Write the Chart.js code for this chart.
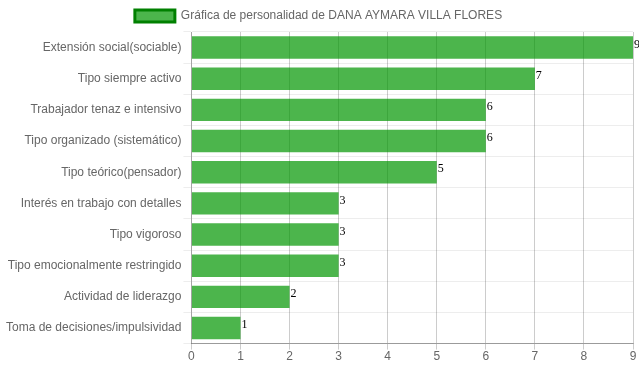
<!DOCTYPE html>
<html>
<head>
<meta charset="utf-8">
<script src="https://cdn.jsdelivr.net/npm/chart.js@4"></script>
<style>
  html, body { margin: 0; padding: 0; background: #fff; }
  #wrap { width: 639px; height: 372px; }
</style>
</head>
<body>
<div id="wrap"><canvas id="chart"></canvas></div>
<script>
const categories = [
  'Extensión social(sociable)',
  'Tipo siempre activo',
  'Trabajador tenaz e intensivo',
  'Tipo organizado (sistemático)',
  'Tipo teórico(pensador)',
  'Interés en trabajo con detalles',
  'Tipo vigoroso',
  'Tipo emocionalmente restringido',
  'Actividad de liderazgo',
  'Toma de decisiones/impulsividad'
];
const scores = [9, 7, 6, 6, 5, 3, 3, 3, 2, 1];
const seriesLabel = 'Gráfica de personalidad de DANA AYMARA VILLA FLORES';

Chart.defaults.font.family = "'Liberation Sans', Arial, sans-serif";
Chart.defaults.font.size = 12;
Chart.defaults.color = '#666';

// value next to each bar end
const valueLabels = {
  id: 'valueLabels',
  afterDatasetsDraw(chart) {
    const ctx = chart.ctx;
    const meta = chart.getDatasetMeta(0);
    ctx.save();
    ctx.font = "12px 'Liberation Serif', 'Times New Roman', serif";
    ctx.fillStyle = '#000';
    ctx.textAlign = 'left';
    ctx.textBaseline = 'middle';
    meta.data.forEach((bar, i) => {
      ctx.fillText(String(scores[i]), bar.x + 1, bar.y - 3);
    });
    ctx.restore();
  }
};

new Chart(document.getElementById('chart'), {
  type: 'bar',
  data: {
    labels: categories,
    datasets: [{
      label: seriesLabel,
      data: scores,
      backgroundColor: 'rgba(0, 150, 0, 0.7)',
      borderColor: 'rgba(0, 128, 0, 1)',
      borderWidth: 0
    }]
  },
  options: {
    indexAxis: 'y',
    responsive: true,
    maintainAspectRatio: false,
    animation: false,
    layout: { padding: { left: 4, right: 6, bottom: 8 } },
    scales: {
      x: {
        min: 0,
        max: 9,
        ticks: { stepSize: 1, padding: 0 },
        grid: { color: 'rgba(0,0,0,0.2)', drawTicks: true, tickLength: 6 },
        border: { color: 'rgba(0,0,0,0.35)' }
      },
      y: {
        grid: { color: 'rgba(0,0,0,0.07)', offset: true, tickLength: 8 },
        border: { color: 'rgba(0,0,0,0.2)' },
        ticks: { padding: 2 }
      }
    },
    plugins: {
      legend: {
        labels: {
          boxWidth: 40,
          boxHeight: 12,
          useBorderRadius: false,
          generateLabels(chart) {
            return [{
              text: seriesLabel,
              fillStyle: 'rgba(0, 150, 0, 0.7)',
              strokeStyle: 'rgb(0, 128, 0)',
              lineWidth: 3,
              fontColor: '#666',
              datasetIndex: 0
            }];
          }
        }
      },
      tooltip: { enabled: false }
    }
  },
  plugins: [valueLabels]
});
</script>
</body>
</html>
